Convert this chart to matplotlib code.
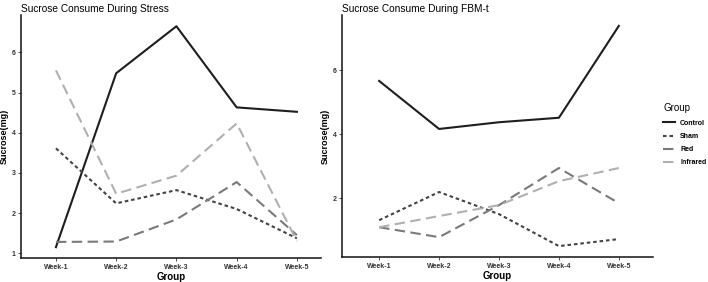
import matplotlib.pyplot as plt
from matplotlib.lines import Line2D

plt.rcParams['font.family'] = ['Liberation Sans', 'DejaVu Sans']

weeks = ['Week-1', 'Week-2', 'Week-3', 'Week-4', 'Week-5']
groups = ['Control', 'Sham', 'Red', 'Infrared']

stress = {
    'Control': [1.15, 5.48, 6.65, 4.63, 4.52],
    'Sham': [3.61, 2.24, 2.57, 2.10, 1.37],
    'Red': [1.28, 1.29, 1.84, 2.77, 1.45],
    'Infrared': [5.55, 2.48, 2.93, 4.23, 1.30],
}
fbm = {
    'Control': [5.66, 4.16, 4.37, 4.51, 7.38],
    'Sham': [1.31, 2.19, 1.50, 0.50, 0.72],
    'Red': [1.09, 0.78, 1.78, 2.94, 1.84],
    'Infrared': [1.09, 1.44, 1.78, 2.53, 2.94],
}

styles = {
    'Control': dict(color='#1e1e1e', linestyle='-'),
    'Sham': dict(color='#444444', linestyle=(0, (1.7, 1.4))),
    'Red': dict(color='#7a7a7a', linestyle=(0, (5.0, 2.6))),
    'Infrared': dict(color='#b0b0b0', linestyle=(0, (5.0, 2.6))),
}

W, H = 708, 282
fig = plt.figure(figsize=(W / 100, H / 100), dpi=100)
ax1 = fig.add_axes([21 / W, (H - 258) / H, 300 / W, 243 / H])
ax2 = fig.add_axes([342 / W, (H - 257) / H, 311 / W, 242 / H])


def draw(ax, data, title, yticks, xlim, ylim):
    x = range(len(weeks))
    for g in groups:
        ax.plot(x, data[g], lw=1.5, **styles[g])
    ax.set_xlim(*xlim)
    ax.set_ylim(*ylim)
    ax.set_xticks(list(x))
    ax.set_xticklabels(weeks, fontsize=5, fontweight='bold', color='#333333')
    ax.set_yticks(yticks)
    ax.set_yticklabels([str(v) for v in yticks], fontsize=5, fontweight='bold', color='#333333')
    ax.tick_params(length=2, width=0.6, pad=2, colors='#333333')
    for s in ['top', 'right']:
        ax.spines[s].set_visible(False)
    for s in ['left', 'bottom']:
        ax.spines[s].set_linewidth(1.1)
        ax.spines[s].set_color('#111111')
    ax.set_xlabel('Group', fontsize=7, fontweight='bold', labelpad=1)
    ax.set_ylabel('Sucrose(mg)', fontsize=6.5, fontweight='bold', labelpad=2)
    ax.set_title(title, fontsize=7.3, loc='left', pad=2.5, x=0)


draw(ax1, stress, 'Sucrose Consume During Stress', [1, 2, 3, 4, 5, 6],
     (-0.58, 4.4), (0.88, 6.93))
draw(ax2, fbm, 'Sucrose Consume During FBM-t', [2, 4, 6],
     (-0.62, 4.57), (0.16, 7.72))

handles = [Line2D([0], [0], lw=1.5, **styles[g]) for g in groups]
leg = fig.legend(handles, groups, loc='upper left', bbox_to_anchor=(660 / W, (H - 100) / H),
                 title='Group', frameon=False, fontsize=5, title_fontsize=7,
                 handlelength=1.6, handletextpad=0.8, labelspacing=0.9, borderpad=0)
for t in leg.get_texts():
    t.set_fontweight('bold')
leg._legend_box.align = 'left'

fig.savefig('out.png', dpi=100)
